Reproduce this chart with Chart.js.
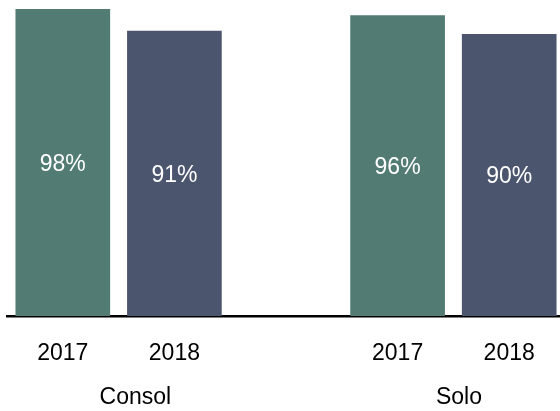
<!DOCTYPE html>
<html lang="en">
<head>
    <meta charset="UTF-8">
    <title>Consol vs Solo</title>
    <script src="https://cdn.jsdelivr.net/npm/chart.js"></script>
    <style>
        html, body { margin: 0; padding: 0; background: #fff; overflow: hidden; }
        #wrap { width: 565px; height: 411px; }
    </style>
</head>
<body>
    <div id="wrap">
        <canvas id="myChart" width="565" height="411"></canvas>
    </div>
    <script>
        // years per group, blank slot keeps the gap between groups
        const years = ['2017', '2018', '', '2017', '2018'];
        const values = [98, 91, null, 96, 90];
        const groupNames = ['Consol', 'Solo'];
        const groupAt = [0.65, 3.55];

        const teal = '#527b74';
        const slate = '#4b556e';
        const barColors = years.map(y => y === '2017' ? teal : slate);
        const font = "'Liberation Sans', Arial, sans-serif";

        // percent text in the middle of each bar, group names under the years
        const labelsPlugin = {
            id: 'labels',
            afterDraw(chart) {
                const ctx = chart.ctx;
                const meta = chart.getDatasetMeta(0);
                ctx.save();
                ctx.font = '23px ' + font;
                ctx.textAlign = 'center';
                ctx.textBaseline = 'middle';
                ctx.fillStyle = '#ffffff';
                meta.data.forEach((bar, i) => {
                    if (values[i] == null) return;
                    const c = bar.getCenterPoint();
                    ctx.fillText(values[i] + '%', c.x, c.y + 2);
                });
                ctx.fillStyle = '#000000';
                const xs = chart.scales.x;
                groupNames.forEach((name, i) => {
                    ctx.fillText(name, xs.getPixelForValue(groupAt[i]), 398);
                });
                ctx.restore();
            }
        };

        new Chart(document.getElementById('myChart'), {
            type: 'bar',
            data: {
                labels: years,
                datasets: [{
                    data: values,
                    backgroundColor: barColors,
                    barThickness: 94
                }]
            },
            options: {
                responsive: false,
                animation: false,
                layout: { padding: { top: 3, left: 7, right: 0, bottom: 20.4 } },
                plugins: {
                    legend: { display: false },
                    tooltip: { enabled: false }
                },
                scales: {
                    x: {
                        z: 1,
                        grid: { display: false, drawTicks: false },
                        border: { display: true, color: '#000', width: 2.5 },
                        ticks: {
                            color: '#000',
                            padding: 23.5,
                            font: { family: font, size: 23 },
                            maxRotation: 0
                        }
                    },
                    y: {
                        display: false,
                        min: 0,
                        max: 100
                    }
                }
            },
            plugins: [labelsPlugin]
        });
    </script>
</body>
</html>
